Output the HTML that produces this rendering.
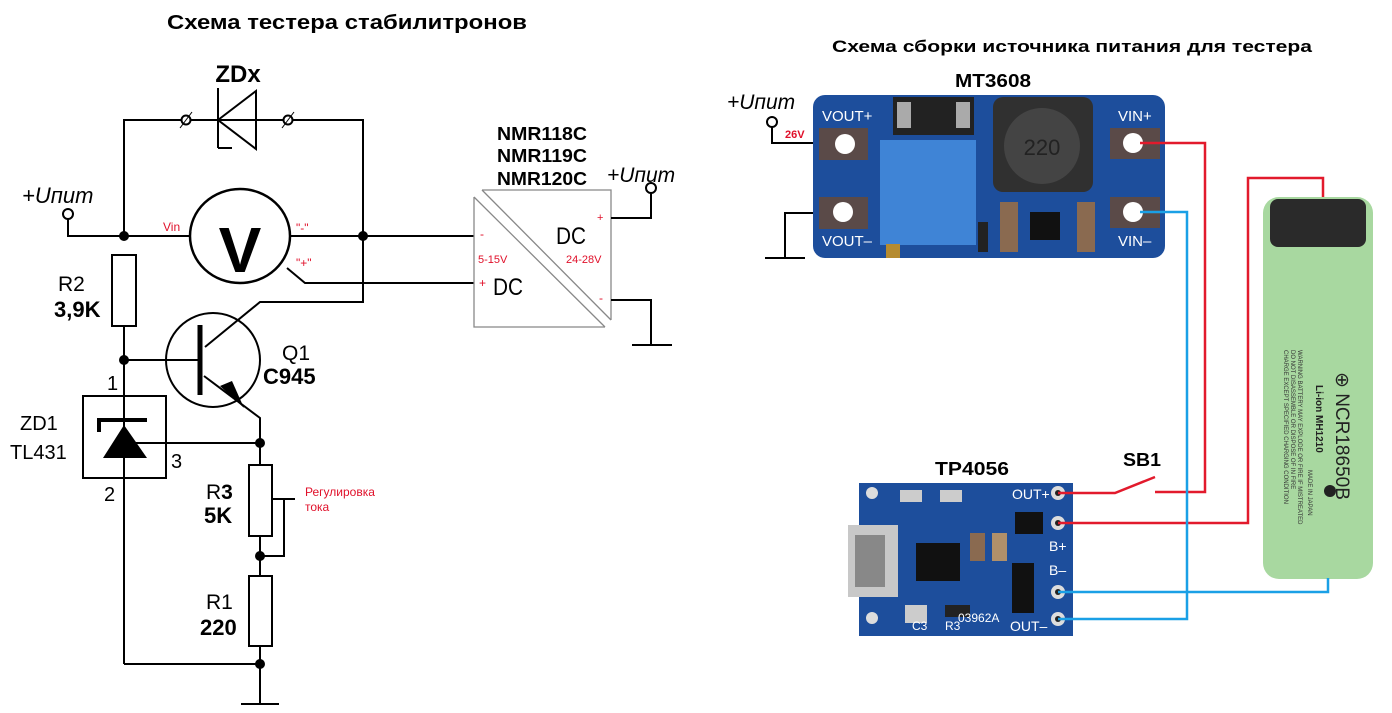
<!DOCTYPE html>
<html><head><meta charset="utf-8"><style>
html,body{margin:0;padding:0;background:#fff;}
svg{display:block;}
text{font-family:"Liberation Sans",sans-serif;}
</style></head><body>
<svg width="1392" height="713" viewBox="0 0 1392 713" xmlns="http://www.w3.org/2000/svg">
<g fill="none" stroke="#000" stroke-width="2">
<polyline points="124,236 124,120 363,120 363,302 260,302 205,347"/>
<line x1="218" y1="88" x2="218" y2="148"/><line x1="218" y1="148" x2="232" y2="148"/>
<polygon points="218,120 256,91 256,149"/>
<circle cx="186" cy="120" r="4.5" fill="#fff"/><line x1="180" y1="128" x2="192" y2="112" stroke-width="1"/>
<circle cx="288" cy="120" r="4.5" fill="#fff"/><line x1="282" y1="128" x2="294" y2="112" stroke-width="1"/>
<circle cx="68" cy="214" r="5"/>
<polyline points="68,219 68,236 124,236"/>
<line x1="124" y1="236" x2="190" y2="236"/>
<ellipse cx="240" cy="236" rx="50" ry="47" stroke-width="2.5"/>
<line x1="290" y1="236" x2="474" y2="236"/>
<polyline points="287,268 305,283 474,283"/>
<rect x="112" y="255" width="24" height="71"/>
<line x1="124" y1="326" x2="124" y2="664"/>
<line x1="124" y1="360" x2="200" y2="360"/>
<circle cx="213" cy="360" r="47"/>
<line x1="200" y1="325" x2="200" y2="395" stroke-width="5"/>
<polyline points="204,376 260,418 260,443"/>
<rect x="83" y="396" width="83" height="82"/>
<polyline points="99,432 99,420 147,420" stroke-width="4"/>
<line x1="124" y1="443" x2="260" y2="443"/>
<line x1="260" y1="443" x2="260" y2="465"/>
<rect x="249" y="465" width="23" height="71"/>
<line x1="260" y1="536" x2="260" y2="576"/>
<polyline points="272,499 295,499"/><polyline points="284,499 284,556 260,556"/>
<rect x="249" y="576" width="23" height="70"/>
<line x1="260" y1="646" x2="260" y2="704"/>
<line x1="124" y1="664" x2="260" y2="664"/>
<line x1="241" y1="704" x2="279" y2="704"/>
<g stroke="#888" stroke-width="1.3">
<polyline points="482,190 611,190 611,320"/>
<polyline points="474,197 474,327 605,327"/>
<line x1="482" y1="190" x2="611" y2="320"/>
<line x1="474" y1="197" x2="605" y2="327"/>
</g>
<polyline points="611,218 651,218 651,193"/>
<circle cx="651" cy="188" r="5"/>
<polyline points="611,300 651,300 651,345"/>
<line x1="632" y1="345" x2="672" y2="345"/>
</g>
<g fill="#000">
<circle cx="124" cy="236" r="5"/><circle cx="363" cy="236" r="5"/>
<circle cx="124" cy="360" r="5"/><circle cx="260" cy="443" r="5"/>
<circle cx="260" cy="556" r="5"/><circle cx="260" cy="664" r="5"/>
<polygon points="124,425 103,458 147,458"/>
<polygon points="244,408 220,386 232,381"/>
</g>
<text x="167" y="29" font-size="20" font-weight="bold" textLength="360" lengthAdjust="spacingAndGlyphs">Схема тестера стабилитронов</text>
<text x="238" y="82" font-size="24" font-weight="bold" text-anchor="middle">ZDx</text>
<text x="22" y="203" font-size="22" font-style="italic">+Uпит</text>
<text x="240" y="272" font-size="64" font-weight="bold" text-anchor="middle">V</text>
<text x="163" y="231" font-size="12" fill="#e0102a">Vin</text>
<text x="296" y="232" font-size="12" fill="#e0102a">"-"</text>
<text x="296" y="267" font-size="12" fill="#e0102a">"+"</text>
<text x="58" y="291" font-size="21">R2</text>
<text x="54" y="317" font-size="22" font-weight="bold">3,9K</text>
<text x="282" y="360" font-size="21">Q1</text>
<text x="263" y="384" font-size="22" font-weight="bold">C945</text>
<text x="107" y="390" font-size="20">1</text>
<text x="20" y="430" font-size="20">ZD1</text>
<text x="10" y="459" font-size="20">TL431</text>
<text x="171" y="468" font-size="20">3</text>
<text x="104" y="501" font-size="20">2</text>
<text x="206" y="499" font-size="21">R<tspan font-weight="bold">3</tspan></text>
<text x="204" y="523" font-size="22" font-weight="bold">5K</text>
<text x="206" y="609" font-size="21">R1</text>
<text x="200" y="635" font-size="22" font-weight="bold">220</text>
<text x="305" y="496" font-size="12" fill="#e0102a">Регулировка</text>
<text x="305" y="511" font-size="12" fill="#e0102a">тока</text>
<text x="497" y="140" font-size="18" font-weight="bold" textLength="90" lengthAdjust="spacingAndGlyphs">NMR118C</text>
<text x="497" y="162" font-size="18" font-weight="bold" textLength="90" lengthAdjust="spacingAndGlyphs">NMR119C</text>
<text x="497" y="185" font-size="18" font-weight="bold" textLength="90" lengthAdjust="spacingAndGlyphs">NMR120C</text>
<text x="607" y="182" font-size="21" font-style="italic">+Uпит</text>
<text x="556" y="244" font-size="24" textLength="30" lengthAdjust="spacingAndGlyphs">DC</text>
<text x="493" y="295" font-size="24" textLength="30" lengthAdjust="spacingAndGlyphs">DC</text>
<text x="480" y="238" font-size="12" fill="#e0102a">-</text>
<text x="478" y="263" font-size="11" fill="#e0102a">5-15V</text>
<text x="479" y="287" font-size="12" fill="#e0102a">+</text>
<text x="597" y="221" font-size="11" fill="#e0102a">+</text>
<text x="566" y="263" font-size="11" fill="#e0102a">24-28V</text>
<text x="599" y="302" font-size="12" fill="#e0102a">-</text>

<text x="832" y="52" font-size="17" font-weight="bold" textLength="480" lengthAdjust="spacingAndGlyphs">Схема сборки источника питания для тестера</text>
<text x="955" y="87" font-size="18" font-weight="bold" textLength="76" lengthAdjust="spacingAndGlyphs">MT3608</text>
<text x="727" y="109" font-size="21" font-style="italic">+Uпит</text>
<g fill="none" stroke="#000" stroke-width="2">
<circle cx="772" cy="122" r="5"/>
<polyline points="772,127 772,143 820,143"/>
<polyline points="820,213 785,213 785,258"/>
<line x1="765" y1="258" x2="805" y2="258"/>
</g>
<text x="785" y="138" font-size="11" font-weight="bold" fill="#e0102a">26V</text>
<rect x="813" y="95" width="352" height="163" rx="12" fill="#1d4e9c"/>
<rect x="893" y="97" width="81" height="38" fill="#222"/>
<rect x="897" y="102" width="14" height="26" fill="#aaa"/><rect x="956" y="102" width="14" height="26" fill="#aaa"/>
<rect x="880" y="140" width="96" height="105" fill="#3f84d6"/>
<rect x="886" y="244" width="14" height="14" fill="#b58b30"/>
<rect x="993" y="97" width="100" height="95" rx="10" fill="#303030"/>
<circle cx="1042" cy="146" r="38" fill="#444"/>
<text x="1042" y="155" font-size="22" text-anchor="middle" fill="#222">220</text>
<rect x="1000" y="202" width="18" height="50" fill="#8a6a50"/>
<rect x="1077" y="202" width="18" height="50" fill="#8a6a50"/>
<rect x="1030" y="212" width="30" height="28" fill="#111"/>
<rect x="978" y="222" width="10" height="30" fill="#222"/>
<g fill="#5a4a48"><rect x="819" y="128" width="49" height="32"/><rect x="819" y="197" width="49" height="32"/><rect x="1110" y="128" width="50" height="31"/><rect x="1110" y="197" width="50" height="31"/></g>
<g fill="#fff"><circle cx="845" cy="144" r="10"/><circle cx="843" cy="212" r="10"/><circle cx="1133" cy="143" r="10"/><circle cx="1133" cy="212" r="10"/></g>
<g fill="#fff" font-size="15"><text x="822" y="121">VOUT+</text><text x="822" y="246">VOUT–</text><text x="1118" y="121">VIN+</text><text x="1118" y="246">VIN–</text></g>
<text x="935" y="475" font-size="18" font-weight="bold" textLength="74" lengthAdjust="spacingAndGlyphs">TP4056</text>
<text x="1123" y="466" font-size="18" font-weight="bold" textLength="38" lengthAdjust="spacingAndGlyphs">SB1</text>
<rect x="859" y="483" width="214" height="153" fill="#1d4e9c"/>
<rect x="848" y="525" width="50" height="72" fill="#c8c8c8"/>
<rect x="855" y="535" width="30" height="52" fill="#888"/>
<rect x="916" y="543" width="44" height="38" fill="#111"/>
<rect x="1012" y="563" width="22" height="50" fill="#111"/>
<rect x="1015" y="512" width="28" height="22" fill="#111"/>
<rect x="970" y="533" width="15" height="28" fill="#8a6a50"/>
<rect x="992" y="533" width="15" height="28" fill="#b0906a"/>
<rect x="905" y="605" width="22" height="18" fill="#ccc"/>
<rect x="945" y="605" width="25" height="12" fill="#222"/>
<rect x="900" y="490" width="22" height="12" fill="#ccc"/><rect x="940" y="490" width="22" height="12" fill="#ccc"/>
<g fill="#ddd"><circle cx="1058" cy="493" r="7"/><circle cx="1058" cy="523" r="7"/><circle cx="1058" cy="592" r="7"/><circle cx="1058" cy="619" r="7"/><circle cx="872" cy="493" r="6"/><circle cx="872" cy="618" r="6"/></g>
<g fill="#222"><circle cx="1058" cy="493" r="3"/><circle cx="1058" cy="523" r="3"/><circle cx="1058" cy="592" r="3"/><circle cx="1058" cy="619" r="3"/></g>
<g fill="#fff" font-size="14"><text x="1012" y="499">OUT+</text><text x="1049" y="551">B+</text><text x="1049" y="575">B–</text><text x="1010" y="631">OUT–</text><text x="958" y="622" font-size="12">03962A</text><text x="912" y="630" font-size="12">C3</text><text x="945" y="630" font-size="12">R3</text></g>
<rect x="1263" y="197" width="110" height="382" rx="16" fill="#a8d8a0"/>
<rect x="1270" y="199" width="96" height="48" rx="8" fill="#2a2a2a"/>
<g transform="translate(1336,372) rotate(90)"><text font-size="19" fill="#222">⊕ NCR18650B</text></g>
<g transform="translate(1316,385) rotate(90)"><text font-size="10" font-weight="bold" fill="#222">Li-ion  MH1210</text></g>
<g transform="translate(1298,350) rotate(90)" font-size="6" fill="#333"><text>WARNING BATTERY MAY EXPLODE OR FIRE IF MISTREATED</text><text y="7">DO NOT DISASSEMBLE OR DISPOSE OF IN FIRE</text><text y="14">CHARGE EXCEPT SPECIFIED CHARGING CONDITION</text><text y="-10" x="120">MADE IN JAPAN</text></g>
<circle cx="1330" cy="491" r="6" fill="#222"/>
<g fill="none" stroke-width="2.5">
<polyline stroke="#e21a2c" points="1140,143 1205,143 1205,492 1155,492"/>
<polyline stroke="#e21a2c" points="1058,493 1115,493 1155,477"/>
<polyline stroke="#e21a2c" points="1323,197 1323,178 1248,178 1248,523 1058,523"/>
<polyline stroke="#1aa0e6" points="1140,212 1187,212 1187,619 1058,619"/>
<polyline stroke="#1aa0e6" points="1328,578 1328,592 1058,592"/>
</g>
</svg>
</body></html>
